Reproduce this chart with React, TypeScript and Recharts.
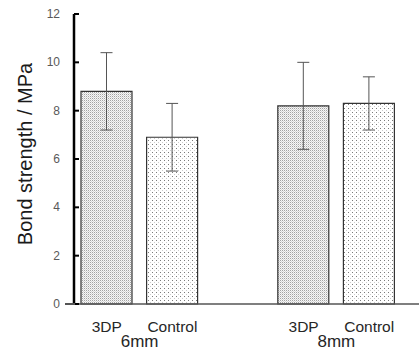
import React from "react";
import { BarChart, Bar, XAxis, YAxis, ErrorBar, Cell } from "recharts";

const categories = ["3DP", "Control", "", "3DP", "Control"];
const groups = ["6mm", "", "", "8mm", ""];
const strength = [8.8, 6.9, null, 8.2, 8.3];
const errors = [1.6, 1.4, null, 1.8, 1.1];
const fills = ["url(#dense)", "url(#sparse)", "none", "url(#dense)", "url(#sparse)"];
const yTicks = [0, 2, 4, 6, 8, 10, 12];

const data = categories.map((c, i) => ({
  name: c,
  group: groups[i],
  value: strength[i],
  err: errors[i],
}));

const FONT = "'Liberation Sans', Arial, sans-serif";

const CategoryTick = ({ x, y, payload }: any) => {
  const g = groups[payload.index];
  return (
    <g>
      <text x={x} y={y + 28} textAnchor="middle" fontSize={15.5} fill="#262626" fontFamily={FONT}>
        {payload.value}
      </text>
      {g && (
        <text x={x + payload.offset} y={y + 43} textAnchor="middle" fontSize={17} fill="#262626" fontFamily={FONT}>
          {g}
        </text>
      )}
    </g>
  );
};

// inward tick mark plus label to its left
const ValueTick = ({ x, y, payload }: any) => (
  <g>
    <line x1={x + 14} x2={x + 19} y1={y} y2={y} stroke="#000" strokeWidth={2} />
    <text x={x} y={y} dy={4} textAnchor="end" fontSize={12} fill="#595959" fontFamily={FONT}>
      {payload.value}
    </text>
  </g>
);

const YLabel = () => (
  <text
    x={32}
    y={154}
    transform="rotate(-90, 32, 154)"
    textAnchor="middle"
    fontSize={20}
    fill="#1a1a1a"
    fontFamily={FONT}
  >
    Bond strength / MPa
  </text>
);

export default function App() {
  return (
    <div style={{ position: "absolute", left: 0, top: 0, width: 419, height: 350, background: "#fff" }}>
      <BarChart width={419} height={350} data={data} margin={{ top: 14, right: 0, left: 0, bottom: 0 }}>
        <defs>
          <pattern id="dense" width="2" height="2" patternUnits="userSpaceOnUse">
            <rect width="2" height="2" fill="#f7f7f7" />
            <rect x="0" y="0" width="1" height="1" fill="#a3a3a3" />
            <rect x="1" y="1" width="1" height="1" fill="#d6d6d6" />
          </pattern>
          <pattern id="sparse" width="4" height="4" patternUnits="userSpaceOnUse">
            <rect width="4" height="4" fill="#ffffff" />
            <rect x="0" y="0" width="1" height="1" fill="#7a7a7a" />
            <rect x="2" y="2" width="1" height="1" fill="#cccccc" />
          </pattern>
        </defs>
        <XAxis
          dataKey="name"
          height={46}
          padding={{ left: 0, right: 17 }}
          axisLine={{ stroke: "#555", strokeWidth: 1.5 }}
          tickLine={false}
          tickSize={0}
          tickMargin={0}
          interval={0}
          tick={<CategoryTick />}
        />
        <YAxis
          domain={[0, 12]}
          ticks={yTicks}
          width={74}
          stroke="#000"
          axisLine={{ stroke: "#000", strokeWidth: 2.5 }}
          tickLine={false}
          tickSize={0}
          tickMargin={14}
          tick={<ValueTick />}
          label={<YLabel />}
        />
        <Bar dataKey="value" barSize={51} stroke="#333" strokeWidth={1.2} isAnimationActive={false}>
          {data.map((d, i) => (
            <Cell key={i} fill={fills[i]} />
          ))}
          <ErrorBar dataKey="err" width={6} stroke="#555" strokeWidth={1} />
        </Bar>
      </BarChart>
      <div style={{ position: "absolute", left: 65, top: 303, width: 10, height: 1.5, background: "#555" }} />
    </div>
  );
}
